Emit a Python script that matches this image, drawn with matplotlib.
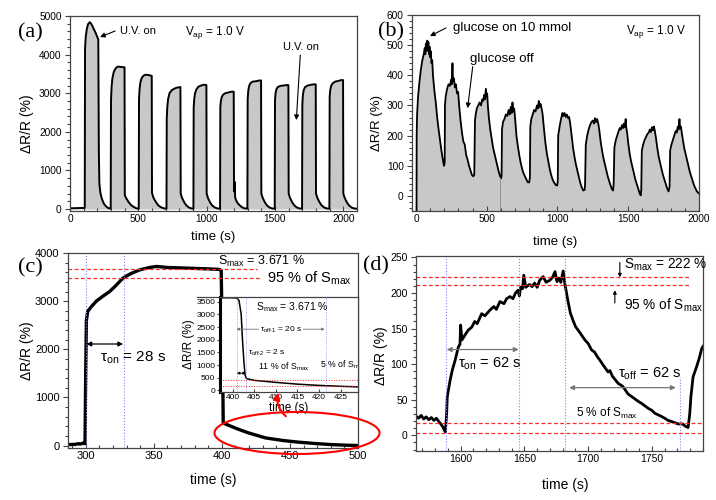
import matplotlib.pyplot as plt
from matplotlib.patches import Ellipse, FancyArrowPatch
from matplotlib.lines import Line2D

plt.rcParams['font.family'] = ['Liberation Sans', 'DejaVu Sans']
plt.rcParams['mathtext.default'] = 'regular'

# ---- (a) UV pulses, Vap = 1.0 V
t_a = [0, 50, 108,
       110, 115, 122, 132, 146, 158, 172, 188, 200, 207, 209, 211, 215, 222, 232, 245, 256, 275, 293, 298,
       300, 304, 310, 320, 335, 350, 375, 399, 401, 410, 427, 445, 464, 485, 503,
       505, 509, 515, 525, 540, 555, 575, 598, 600, 610, 627, 645, 664, 685, 706,
       708, 712, 718, 728, 745, 770, 790, 808, 810, 820, 835, 850, 870, 890, 903,
       905, 909, 915, 925, 940, 960, 980, 998, 1000, 1010, 1025, 1040, 1060, 1080, 1098,
       1100, 1104, 1110, 1120, 1135, 1160, 1180, 1198, 1200, 1203, 1206, 1208, 1210, 1220, 1235, 1255, 1275, 1298,
       1300, 1304, 1310, 1320, 1335, 1360, 1385, 1398, 1400, 1410, 1425, 1440, 1460, 1480, 1498,
       1500, 1504, 1510, 1520, 1540, 1565, 1585, 1598, 1600, 1610, 1625, 1640, 1660, 1680, 1698,
       1700, 1704, 1710, 1720, 1740, 1765, 1785, 1798, 1800, 1810, 1825, 1840, 1860, 1880, 1898,
       1900, 1904, 1910, 1920, 1940, 1965, 1985, 1998, 2000, 2010, 2025, 2040, 2060, 2080, 2100]
r_a = [20, 25, 30,
       4150, 4450, 4640, 4790, 4840, 4780, 4680, 4560, 4450, 4390, 3000, 1500, 660, 430, 280, 160, 100, 35, 10, 10,
       2820, 3150, 3380, 3550, 3650, 3690, 3680, 3670, 360, 290, 190, 110, 60, 20, 10,
       2870, 3100, 3280, 3400, 3460, 3480, 3470, 3450, 420, 300, 190, 100, 50, 20, 10,
       2350, 2650, 2850, 3000, 3080, 3130, 3150, 3160, 400, 290, 180, 100, 40, 15, 10,
       2610, 2850, 3000, 3100, 3170, 3200, 3220, 3210, 400, 280, 170, 95, 40, 15, 10,
       2650, 2800, 2900, 2960, 3000, 3020, 3040, 3040, 600, 450, 700, 330, 280, 190, 120, 55, 20, 10,
       2840, 3050, 3180, 3260, 3300, 3310, 3330, 3330, 400, 290, 180, 100, 40, 15, 10,
       2820, 3000, 3100, 3160, 3190, 3200, 3210, 3210, 400, 290, 180, 100, 40, 15, 10,
       2700, 2950, 3080, 3160, 3200, 3220, 3230, 3230, 400, 290, 180, 100, 40, 15, 10,
       2900, 3080, 3180, 3250, 3300, 3320, 3340, 3340, 400, 290, 180, 100, 40, 15, 10]

# ---- (b) glucose 10 mmol pulses
t_b = [4, 5, 8, 15, 25, 35, 45, 55, 62, 66, 70, 75, 80, 84, 88, 92, 96, 100, 105, 110, 115, 120, 130, 140, 150, 160, 170, 180, 190, 198,
       203, 205, 210, 220, 230, 240, 248, 252, 258, 262, 268, 275, 282, 290, 298, 305, 315, 325, 335, 345, 355, 365, 375, 385, 395, 405,
       412, 417, 422, 430, 440, 450, 460, 468, 475, 482, 488, 494, 498, 503, 508, 515, 525, 535, 545, 555, 565, 575, 585, 595, 602,
       605, 608, 615, 625, 635, 645, 655, 662, 670, 676, 682, 688, 694, 700, 710, 720, 730, 740, 750, 760, 770, 780, 790, 800,
       805, 808, 815, 825, 835, 845, 855, 862, 868, 874, 880, 888, 895, 905, 915, 925, 935, 945, 955, 965, 975, 990, 998,
       1002, 1005, 1015, 1025, 1035, 1042, 1050, 1058, 1066, 1074, 1082, 1090, 1100, 1110, 1120, 1130, 1140, 1150, 1160, 1170, 1182, 1192,
       1195, 1200, 1210, 1220, 1230, 1240, 1250, 1258, 1265, 1272, 1280, 1288, 1295, 1305, 1315, 1325, 1335, 1345, 1355, 1365, 1375, 1385, 1393,
       1397, 1402, 1412, 1422, 1432, 1440, 1448, 1456, 1463, 1470, 1476, 1482, 1486, 1492, 1500, 1510, 1520, 1530, 1540, 1550, 1560, 1570, 1580, 1588,
       1592, 1596, 1605, 1615, 1625, 1635, 1645, 1652, 1660, 1668, 1675, 1682, 1688, 1695, 1705, 1715, 1725, 1735, 1745, 1755, 1765, 1775, 1785,
       1792, 1796, 1805, 1815, 1825, 1835, 1843, 1850, 1856, 1862, 1866, 1872, 1878, 1885, 1895, 1905, 1915, 1925, 1935, 1945, 1955, 1965, 1975, 1985, 1995, 2000]
r_b = [-50, 200, 270, 330, 380, 420, 450, 470, 490, 470, 505, 480, 515, 490, 510, 470, 495, 460, 480, 440, 450, 400, 350, 310, 260, 220, 185, 150, 120, 100,
       110, 300, 330, 355, 370, 365, 385, 370, 440, 380, 390, 360, 370, 340, 345, 300, 250, 210, 180, 170, 135, 120, 100, 85, 70, 65,
       70, 250, 270, 290, 300, 310, 300, 320, 315, 335, 320, 355, 330, 340, 300, 260, 220, 190, 160, 140, 120, 100, 80, 65, 58,
       70, 220, 245, 255, 270, 265, 285, 270, 295, 275, 310, 280, 290, 260, 200, 165, 135, 110, 90, 75, 65, 55, 45, 45,
       60, 230, 255, 270, 285, 280, 300, 290, 315, 295, 305, 290, 270, 220, 175, 140, 115, 90, 70, 55, 45, 35, 35,
       50, 200, 230, 255, 275, 265, 275, 262, 270, 258, 262, 240, 200, 160, 130, 105, 85, 65, 45, 30, 18, 20,
       40, 170, 200, 220, 235, 245, 250, 240, 258, 245, 255, 240, 220, 180, 150, 125, 105, 85, 65, 50, 35, 22, 18,
       40, 160, 185, 200, 215, 225, 220, 235, 225, 240, 228, 255, 225, 210, 175, 140, 115, 95, 75, 55, 40, 25, 10, 2,
       20, 150, 170, 185, 195, 205, 210, 220, 212, 228, 218, 230, 215, 195, 160, 130, 110, 90, 70, 55, 40, 25, 15,
       30, 150, 170, 185, 200, 215, 210, 230, 220, 255, 225, 230, 210, 190, 160, 140, 120, 100, 80, 65, 50, 35, 25, 15, 10, 8]

# ---- (c) single UV pulse (main) and zoom on the decay (inset)
t_c = [287, 292, 295, 296, 298, 299.5, 300, 300.5, 301.5, 304, 307.8, 312, 317.6, 322, 327.4, 333, 339.7, 347, 352,
       360, 370, 380, 390, 398, 399.5, 400.5, 401, 405, 413, 420, 432, 445, 457, 470, 481, 490, 500]
r_c = [20, 25, 40, 30, 50, 40, 1500, 2600, 2790, 2880, 3000, 3090, 3200, 3320, 3480, 3570, 3650, 3700, 3720,
       3700, 3690, 3680, 3670, 3660, 3640, 2000, 470, 420, 330, 260, 160, 105, 70, 40, 20, 10, 0]
t_ins = [397, 400, 401, 401.5, 402, 402.3, 402.6, 402.9, 403.2, 405, 410, 415, 420, 425, 429.5]
r_ins = [3660, 3660, 3650, 3550, 3000, 2000, 1200, 600, 470, 400, 320, 250, 200, 165, 140]
smax_c = 3671

# ---- (d) single glucose pulse
t_d = [1565, 1567, 1569, 1571, 1573, 1575, 1577, 1579, 1581, 1583, 1584, 1586, 1587, 1588, 1589, 1589.5, 1591.7, 1593.5,
       1595.6, 1598.2, 1599.5, 1600, 1601, 1603.4, 1606, 1608.7, 1611, 1613, 1616.5, 1619, 1623, 1626, 1628, 1630.8,
       1634, 1636, 1638.7, 1641, 1643, 1645, 1646, 1647, 1648.5, 1649.5, 1651, 1654, 1656, 1658, 1660, 1662, 1664.7,
       1667, 1670, 1672, 1674, 1675.5, 1677, 1678.5, 1680.4, 1681.7, 1684, 1686, 1688, 1690, 1692, 1694, 1697.4, 1700,
       1702.6, 1705, 1707, 1709, 1712, 1715.6, 1717, 1719, 1723.5, 1727, 1729, 1731.3, 1736, 1739, 1741.8, 1747, 1750,
       1752.2, 1757, 1760, 1762.6, 1766, 1770.5, 1774, 1776, 1778.3, 1779.6, 1780.5, 1782.2, 1784.9, 1787, 1789, 1790]
r_d = [27, 24, 28, 23, 26, 22, 25, 21, 24, 19, 17, 12, 8, 5, 30, 54, 77, 92,
       105, 124, 128, 155, 134, 141, 148, 152, 160, 157, 171, 168, 176, 181, 177, 188,
       185, 192, 195, 192, 200, 204, 196, 208, 206, 225, 208, 212, 209, 214, 208, 218, 223,
       215, 218, 222, 230, 216, 221, 215, 231, 213, 190, 172, 162, 153, 148, 143, 134, 129,
       120, 117, 111, 106, 98, 89, 91, 83, 73, 69, 64, 58, 52, 48, 45, 38, 35,
       31, 27, 24, 21, 19, 16, 16, 13, 11, 30, 54, 82, 96, 108, 122, 125]
smax_d = 222

GREY = '#c8c8c8'
SPINE = '#444444'
BLUE = '#7f7fff'
RED = '#ff2a2a'

fig = plt.figure(figsize=(7.16, 5.0), dpi=100)


def px(l, t, r, b):
    return [l / 716, 1 - b / 500, (r - l) / 716, (b - t) / 500]


def style(ax, fs):
    for s in ax.spines.values():
        s.set_color(SPINE)
        s.set_linewidth(0.9)
    ax.tick_params(which='both', colors=SPINE, labelcolor='black', labelsize=fs, width=0.8)
    ax.tick_params(axis='y', which='both', direction='out')
    ax.tick_params(axis='x', which='both', direction='in')
    ax.tick_params(which='major', length=3.5, pad=2.5)
    ax.tick_params(which='minor', length=2)
    ax.minorticks_on()


def arrow(ax, tail, head, style_='-|>', color='k', lw=0.8, ms=7):
    ax.annotate('', xy=head, xytext=tail,
                arrowprops=dict(arrowstyle=style_, color=color, lw=lw, shrinkA=0, shrinkB=0, mutation_scale=ms))


# (a)
ax = fig.add_axes(px(70, 16, 357, 211))
ax.fill_between(t_a, r_a, 0, color=GREY, lw=0)
ax.plot(t_a, r_a, color='k', lw=1.4)
ax.set_xlim(0, 2100)
ax.set_ylim(-50, 5000)
ax.set_xticks([0, 500, 1000, 1500, 2000])
ax.set_yticks(range(0, 5001, 1000))
style(ax, 7.3)
ax.set_xlabel('time (s)', fontsize=9.5)
ax.set_ylabel('ΔR/R (%)', fontsize=10)
ax.xaxis.set_label_coords(0.498, -0.103)
ax.yaxis.set_label_coords(-0.125, 0.45)
ax.text(366, 4611, 'U.V. on', fontsize=8, va='center')
arrow(ax, (330, 4611), (220, 4456))
ax.text(842, 4560, 'V$_{ap}$ = 1.0 V', fontsize=8.5, va='center')
ax.text(1560, 4197, 'U.V. on', fontsize=8, va='center')
arrow(ax, (1685, 3990), (1656, 2305))

# (b)
ax = fig.add_axes(px(412, 15, 699, 211))
ax.fill_between(t_b, r_b, -50, color=GREY, lw=0)
ax.plot(t_b, r_b, color='k', lw=1.3)
ax.vlines(597, -50, 62, color='#888888', lw=0.6)
ax.set_xlim(-28, 2000)
ax.set_ylim(-50, 600)
ax.set_xticks([0, 500, 1000, 1500, 2000])
ax.set_yticks(range(0, 601, 100))
style(ax, 7.3)
ax.set_xlabel('time (s)', fontsize=9.5)
ax.set_ylabel('ΔR/R (%)', fontsize=9.5)
ax.xaxis.set_label_coords(0.498, -0.128)
ax.yaxis.set_label_coords(-0.101, 0.45)
ax.text(261, 557, 'glucose on 10 mmol', fontsize=9.5, va='center')
arrow(ax, (212, 557), (99, 530))
ax.text(382, 454, 'glucose off', fontsize=9.5, va='center')
arrow(ax, (401, 429), (365, 291))
ax.text(1484, 544, 'V$_{ap}$ = 1.0 V', fontsize=8.5, va='center')

# (c)
ax = fig.add_axes(px(68, 253, 358, 448))
ax.plot(t_c, r_c, color='k', lw=2.4, solid_joinstyle='round')
ax.set_xlim(287, 500)
ax.set_ylim(-50, 4000)
ax.set_xticks(range(300, 501, 50))
ax.set_yticks(range(0, 4001, 1000))
style(ax, 8)
ax.set_xlabel('time (s)', fontsize=10)
ax.set_ylabel('ΔR/R (%)', fontsize=10)
ax.xaxis.set_label_coords(0.5, -0.128)
ax.yaxis.set_label_coords(-0.118, 0.5)
for tv in [300, 328]:
    ax.axvline(tv, color=BLUE, lw=0.8, ls=':')
ax.hlines(smax_c, 287, 426, color=RED, lw=0.9, ls=(0, (3, 2)))
ax.hlines(0.95 * smax_c, 287, 429, color=RED, lw=0.9, ls=(0, (3, 2)))
ax.text(397, 3834, 'S$_{max}$ = 3.671 %', fontsize=9, va='center')
ax.text(433, 3482, '95 % of S$_{max}$', fontsize=10.5, va='center')
arrow(ax, (300.5, 2110), (327.5, 2110), style_='<|-|>', lw=0.9)
ax.text(310.3, 1824, 'τ$_{on}$ = 28 s', fontsize=11, va='center')

# inset of (c)
ins = fig.add_axes(px(220, 297, 358, 392))
ins.plot(t_ins, r_ins, color='k', lw=1.1)
ins.set_xlim(397.1, 429.0)
ins.set_ylim(-60, 3690)
ins.set_xticks(range(400, 430, 5))
ins.set_yticks(range(0, 3501, 500))
style(ins, 6)
ins.minorticks_off()
ins.spines['left'].set_color('k')
ins.spines['left'].set_linewidth(2.2)
ins.tick_params(which='major', length=2, pad=1.5)
ins.set_xlabel('time (s)', fontsize=8.5, labelpad=1)
ins.set_ylabel('ΔR/R (%)', fontsize=8.5, labelpad=1)
for tv in [401, 403.1, 421.5]:
    ins.axvline(tv, color=BLUE, lw=0.6, ls=':')
for hv in [smax_c, 0.11 * smax_c, 0.05 * smax_c]:
    ins.axhline(hv, color=RED, lw=0.7, ls=':')
ins.text(405.5, 3280, 'S$_{max}$ = 3.671 %', fontsize=7.5, va='center')
arrow(ins, (400.9, 2420), (421.3, 2420), style_='<|-|>', color='#777777', lw=0.6, ms=4)
ins.text(406.3, 2400, 'τ$_{off\u20111}$ = 20 s', fontsize=6, va='center',
         bbox=dict(fc='white', ec='none', pad=0.5))
ins.text(403.6, 1480, 'τ$_{off\u20112}$ = 2 s', fontsize=6, va='center')
arrow(ins, (401, 683), (403.1, 683), style_='<|-|>', lw=0.6, ms=4)
ins.text(405.9, 940, '11 % of S$_{max}$', fontsize=6.3, va='center')
ins.text(420.2, 1030, '5 % of S$_{max}$', fontsize=6.3, va='center', clip_on=True)

fig.add_artist(Line2D([197 / 716, 220 / 716], [1 - 297 / 500] * 2, color=SPINE, lw=0.9))
fig.add_artist(Ellipse((297 / 716, 1 - 433 / 500), 165 / 716, 42 / 500, transform=fig.transFigure,
                       fill=False, ec='red', lw=1.5))
fig.add_artist(FancyArrowPatch((288 / 716, 1 - 418 / 500), (279 / 716, 1 - 390 / 500),
                               transform=fig.transFigure, connectionstyle='arc3,rad=-0.35',
                               arrowstyle='-|>', mutation_scale=10, color='red', lw=1.5))

# (d)
ax = fig.add_axes(px(416, 256, 703, 451))
ax.plot(t_d, r_d, color='k', lw=2.0, solid_joinstyle='round')
ax.set_xlim(1565, 1790)
ax.set_ylim(-22, 252)
ax.set_xticks(range(1600, 1751, 50))
ax.set_yticks(range(0, 251, 50))
style(ax, 7.5)
ax.set_xlabel('time (s)', fontsize=10)
ax.set_ylabel('ΔR/R (%)', fontsize=10)
ax.xaxis.set_label_coords(0.52, -0.138)
ax.yaxis.set_label_coords(-0.097, 0.49)
for tv in [1588.5, 1645.7, 1681.7]:
    ax.axvline(tv, color=BLUE, lw=0.8, ls=':')
ax.vlines(1771.8, -22, 82, color=BLUE, lw=0.8, ls=':')
ax.hlines([smax_d, 0.95 * smax_d], 1565, 1780.4, color=RED, lw=0.9, ls=(0, (3, 2)))
ax.axhline(18, color=RED, lw=0.9, ls=(0, (3, 2)))
ax.axhline(3, color=RED, lw=0.9, ls=(0, (3, 2)))
ax.text(1727.8, 239, 'S$_{max}$ = 222 %', fontsize=9.8, va='center')
arrow(ax, (1724.8, 243), (1724.8, 222), ms=5)
ax.text(1727.8, 183, '95 % of S$_{max}$', fontsize=9.8, va='center')
arrow(ax, (1720.9, 186), (1720.9, 204), ms=5)
arrow(ax, (1589.1, 120.6), (1645.5, 120.6), style_='<|-|>', color='#777777', lw=0.9)
ax.text(1597.7, 101, 'τ$_{on}$ = 62 s', fontsize=10.5, va='center')
arrow(ax, (1685.1, 67), (1768.7, 67), style_='<|-|>', color='#777777', lw=0.9)
ax.text(1723, 86, 'τ$_{off}$ = 62 s', fontsize=10.5, va='center')
ax.text(1690.3, 30.5, '5 % of S$_{max}$', fontsize=8.5, va='center')

# panel letters
for x, y, lab in [(30, 33, '(a)'), (391, 32, '(b)'), (30, 268, '(c)'), (376, 266, '(d)')]:
    fig.text(x / 716, 1 - y / 500, lab, fontsize=16, family='Liberation Serif', ha='center', va='center')

fig.savefig('out.png', dpi=100)
